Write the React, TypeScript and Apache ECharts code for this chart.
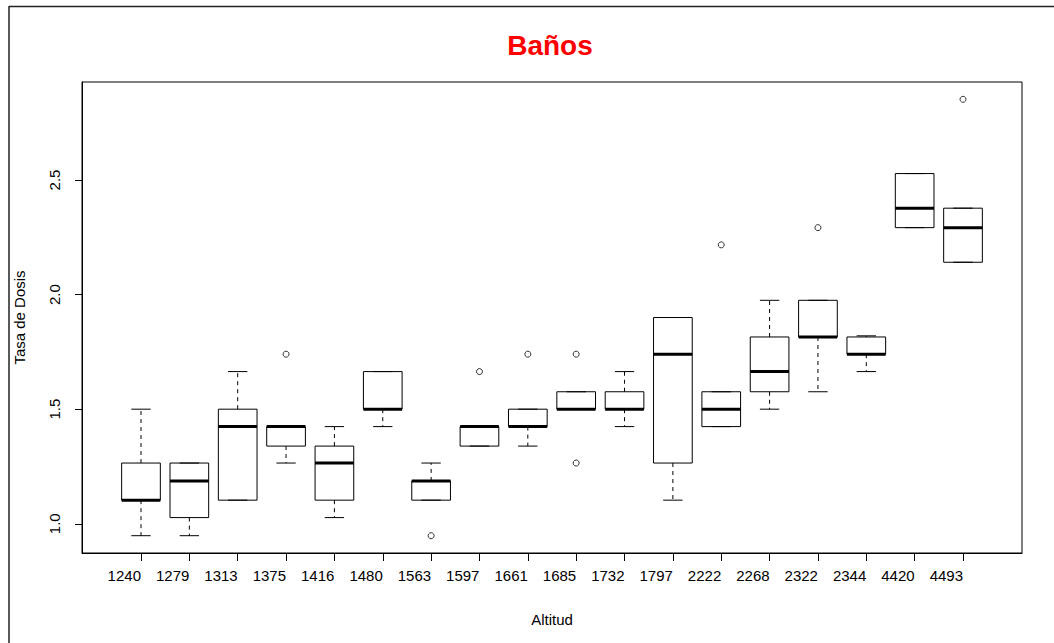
import React, { useEffect, useRef } from "react";
import * as echarts from "echarts";

const categories = [
  "1240", "1279", "1313", "1375", "1416", "1480", "1563", "1597", "1661",
  "1685", "1732", "1797", "2222", "2268", "2322", "2344", "4420", "4493",
];
const whiskerLow = [0.948, 0.948, 1.103, 1.265, 1.027, 1.424, 1.103, 1.339, 1.339, 1.5, 1.424, 1.103, 1.424, 1.5, 1.576, 1.664, 2.292, 2.141];
const quartile1 = [1.103, 1.027, 1.103, 1.339, 1.103, 1.5, 1.103, 1.339, 1.424, 1.5, 1.5, 1.265, 1.424, 1.576, 1.815, 1.74, 2.292, 2.141];
const medians = [1.103, 1.187, 1.424, 1.424, 1.265, 1.5, 1.187, 1.424, 1.424, 1.5, 1.5, 1.74, 1.5, 1.664, 1.815, 1.74, 2.377, 2.292];
const quartile3 = [1.265, 1.265, 1.5, 1.424, 1.339, 1.664, 1.187, 1.424, 1.5, 1.576, 1.576, 1.9, 1.576, 1.815, 1.975, 1.815, 2.528, 2.377];
const whiskerHigh = [1.5, 1.265, 1.664, 1.424, 1.424, 1.664, 1.265, 1.424, 1.5, 1.576, 1.664, 1.9, 1.576, 1.975, 1.975, 1.82, 2.528, 2.377];
// [category position (1-based), value]
const outliers = [
  [4, 1.74], [7, 0.948], [8, 1.664], [9, 1.74], [10, 1.74], [10, 1.265],
  [13, 2.217], [15, 2.292], [18, 2.852],
];
const yTicks = [1.0, 1.5, 2.0, 2.5];
const xTicks = categories.map((_, i) => i + 1);

const FONT = "Liberation Sans, Arial, sans-serif";

export default function App() {
  const ref = useRef<HTMLDivElement>(null);
  useEffect(() => {
    if (!ref.current) return;
    const chart = echarts.init(ref.current, undefined, { renderer: "svg" });
    const boxData = categories.map((_, i) => [
      i + 1, whiskerLow[i], quartile1[i], medians[i], quartile3[i], whiskerHigh[i],
    ]);
    const option: any = {
      animation: false,
      backgroundColor: "#fff",
      title: {
        text: "Baños",
        left: 545,
        top: 26,
        textAlign: "center",
        textStyle: { color: "#ff0000", fontSize: 28, fontWeight: "bold", fontFamily: FONT },
      },
      grid: {
        left: 82, top: 82, right: 32, bottom: 90,
        show: true, borderColor: "#000", borderWidth: 1, backgroundColor: "transparent",
      },
      xAxis: {
        type: "value",
        min: -0.22,
        max: 19.22,
        splitLine: { show: false },
        axisLine: { show: true, onZero: false, lineStyle: { color: "#000" } },
        axisTick: { show: true, length: 8, customValues: xTicks, lineStyle: { color: "#000" } },
        axisLabel: {
          customValues: xTicks,
          formatter: (v: number) => categories[Math.round(v) - 1] ?? "",
          align: "right",
          margin: 15, fontSize: 15, color: "#000", fontFamily: FONT,
        },
        name: "Altitud",
        nameLocation: "middle",
        nameGap: 59,
        nameTextStyle: { fontSize: 15, color: "#000", fontFamily: FONT },
      },
      yAxis: {
        type: "value",
        min: 0.8725,
        max: 2.9275,
        splitLine: { show: false },
        axisLine: { show: true, onZero: false, lineStyle: { color: "#000" } },
        axisTick: { show: true, length: 7, customValues: yTicks, lineStyle: { color: "#000" } },
        axisLabel: {
          customValues: yTicks,
          formatter: (v: number) => v.toFixed(1),
          rotate: 90,
          margin: 20, fontSize: 15, color: "#000", fontFamily: FONT,
        },
        name: "Tasa de Dosis",
        nameLocation: "middle",
        nameGap: 55,
        nameRotate: 90,
        nameTextStyle: { fontSize: 15, color: "#000", fontFamily: FONT },
      },
      graphic: [
        { type: "line", shape: { x1: 9, y1: 6.5, x2: 1054, y2: 6.5 }, style: { stroke: "#222", lineWidth: 1.5 } },
        { type: "line", shape: { x1: 9, y1: 6, x2: 9, y2: 643 }, style: { stroke: "#222", lineWidth: 1.5 } },
      ],
      series: [
        {
          type: "custom",
          data: boxData,
          encode: { x: 0, y: [1, 2, 3, 4, 5] },
          clip: false,
          renderItem: (params: any, api: any) => {
            const x = api.value(0);
            const lo = api.value(1), a = api.value(2), m = api.value(3), b = api.value(4), hi = api.value(5);
            const cx = api.coord([x, m])[0];
            const yLo = api.coord([x, lo])[1];
            const yA = api.coord([x, a])[1];
            const yM = api.coord([x, m])[1];
            const yB = api.coord([x, b])[1];
            const yHi = api.coord([x, hi])[1];
            const halfW = api.size([0.8, 0])[0] / 2;
            const capHalf = api.size([0.4, 0])[0] / 2;
            const solid = { stroke: "#000", lineWidth: 1, fill: null };
            const dashed = { stroke: "#000", lineWidth: 1, lineDash: [4, 4], fill: null };
            return {
              type: "group",
              children: [
                { type: "line", shape: { x1: cx, y1: yB, x2: cx, y2: yHi }, style: dashed },
                { type: "line", shape: { x1: cx, y1: yA, x2: cx, y2: yLo }, style: dashed },
                { type: "line", shape: { x1: cx - capHalf, y1: yHi, x2: cx + capHalf, y2: yHi }, style: solid },
                { type: "line", shape: { x1: cx - capHalf, y1: yLo, x2: cx + capHalf, y2: yLo }, style: solid },
                { type: "rect", shape: { x: cx - halfW, y: yB, width: halfW * 2, height: yA - yB }, style: { stroke: "#000", lineWidth: 1, fill: "none" } },
                { type: "line", shape: { x1: cx - halfW, y1: yM, x2: cx + halfW, y2: yM }, style: { stroke: "#000", lineWidth: 3 } },
              ],
            };
          },
        },
        {
          type: "scatter",
          data: outliers,
          symbol: "circle",
          symbolSize: 6,
          itemStyle: { color: "#fff", borderColor: "#000", borderWidth: 1 },
        },
      ],
    };
    chart.setOption(option);
    return () => chart.dispose();
  }, []);
  return (
    <div
      ref={ref}
      style={{ position: "fixed", left: 0, top: 0, width: 1054, height: 643, background: "#fff" }}
    />
  );
}
